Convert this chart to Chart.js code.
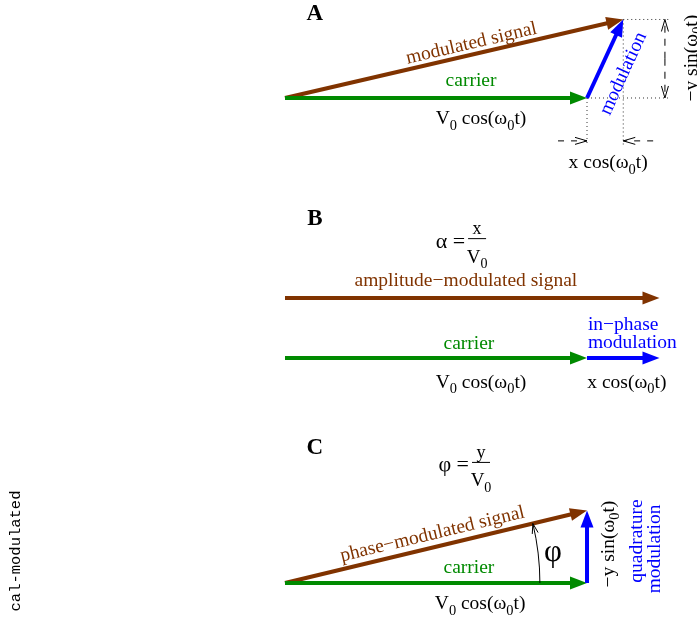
<!DOCTYPE html>
<html>
<head>
<meta charset="utf-8">
<script src="https://cdn.jsdelivr.net/npm/chart.js@4/dist/chart.umd.min.js"></script>
<style>
  html, body { margin: 0; padding: 0; background: #fff; }
  canvas { display: block; }
</style>
</head>
<body>
<canvas id="fasores" width="697" height="621"></canvas>
<script>
// amplitudes in units of the carrier V0
const carrierLen = 1.0;
const modA = [0.12, 0.26];     // x cos(w0t), -y sin(w0t) in panel A
const inPhaseB = 0.24;         // x in panel B
const quadC = 0.24;            // y in panel C
const baseY = [1.606, 0.745, 0]; // carrier height of panels A, B, C
const amGap = 0.199;           // AM arrow sits above the carrier in B

const brown = "#803300";
const green = "#008a00";
const blue = "#0000ff";

const bA = baseY[0], bB = baseY[1], bC = baseY[2];
const tipA = [carrierLen + modA[0], bA + modA[1]];

function seg(pts, color, width, extra) {
  return Object.assign({
    data: pts.map((p) => ({ x: p[0], y: p[1] })),
    borderColor: color,
    borderWidth: width,
    showLine: true,
    pointRadius: 0,
    borderCapStyle: "butt",
    clip: false,
  }, extra || {});
}

const dot = { borderDash: [1, 3], order: 5 };

const datasets = [
  // panel A
  seg([[carrierLen, bA], tipA], blue, 4, { arrow: "filled", order: 1 }),
  seg([[0, bA], [carrierLen, bA]], green, 4, { arrow: "filled", order: 2 }),
  seg([[0, bA], tipA], brown, 4, { arrow: "filled", order: 3 }),
  seg([tipA, [1.275, tipA[1]]], "#333", 1, dot),
  seg([[carrierLen, bA], [1.275, bA]], "#333", 1, dot),
  seg([[carrierLen, bA], [carrierLen, bA - 0.156]], "#333", 1, dot),
  seg([tipA, [tipA[0], bA - 0.156]], "#333", 1, dot),
  seg([[1.258, bA + 0.13], [1.258, tipA[1]]], "#000", 1, { borderDash: [7, 6], arrow: "open", order: 4 }),
  seg([[1.258, bA + 0.13], [1.258, bA]], "#000", 1, { borderDash: [7, 6], arrow: "open", order: 4 }),
  seg([[0.904, bA - 0.142], [carrierLen, bA - 0.142]], "#000", 1, { borderDash: [6, 7], arrow: "open", order: 4 }),
  seg([[1.219, bA - 0.142], [tipA[0], bA - 0.142]], "#000", 1, { borderDash: [6, 7], arrow: "open", order: 4 }),
  // panel B
  seg([[carrierLen, bB], [carrierLen + inPhaseB, bB]], blue, 4, { arrow: "filled", order: 1 }),
  seg([[0, bB], [carrierLen, bB]], green, 4, { arrow: "filled", order: 2 }),
  seg([[0, bB + amGap], [carrierLen + inPhaseB, bB + amGap]], brown, 4, { arrow: "filled", order: 3 }),
  // panel C
  seg([[carrierLen, bC], [carrierLen, bC + quadC]], blue, 4, { arrow: "filled", order: 1 }),
  seg([[0, bC], [carrierLen, bC]], green, 4, { arrow: "filled", order: 2 }),
  seg([[0, bC], [carrierLen, bC + quadC]], brown, 4, { arrow: "filled", order: 3 }),
];

// text labels (x, y in diagram units)
const SERIF = "'Liberation Serif', 'Times New Roman', serif";
const labels = [
  { t: "A", x: 0.099, y: 1.891, size: 23, bold: true },
  { t: "modulated signal", x: 0.616, y: 1.791, color: brown, rot: -13.1 },
  { t: "carrier", x: 0.616, y: 1.669, color: green },
  { t: "V_0 cos(ω_0t)", x: 0.649, y: 1.543 },
  { t: "modulation", x: 1.116, y: 1.689, color: blue, rot: -65.5 },
  { t: "x cos(ω_0t)", x: 1.070, y: 1.397 },
  { t: "−y sin(ω_0t)", x: 1.341, y: 1.738, rot: -90 },

  { t: "B", x: 0.099, y: 1.212, size: 23, bold: true },
  { t: "amplitude−modulated signal", x: 0.599, y: 1.007, color: brown },
  { t: "carrier", x: 0.609, y: 0.798, color: green },
  { t: "in−phase", x: 1.003, y: 0.861, color: blue, align: "left" },
  { t: "modulation", x: 1.003, y: 0.801, color: blue, align: "left" },
  { t: "V_0 cos(ω_0t)", x: 0.649, y: 0.669 },
  { t: "x cos(ω_0t)", x: 1.132, y: 0.669 },

  { t: "C", x: 0.099, y: 0.454, size: 23, bold: true },
  { t: "phase−modulated signal", x: 0.487, y: 0.166, color: brown, rot: -13.5 },
  { t: "carrier", x: 0.609, y: 0.056, color: green },
  { t: "V_0 cos(ω_0t)", x: 0.646, y: -0.063 },
  { t: "φ", x: 0.887, y: 0.109, size: 31 },
  { t: "−y sin(ω_0t)", x: 1.066, y: 0.129, rot: -90 },
  { t: "quadrature", x: 1.160, y: 0.139, color: blue, rot: -90 },
  { t: "modulation", x: 1.219, y: 0.113, color: blue, rot: -90 },

  { t: "cal-modulated", x: -0.894, y: 0.106, size: 15.5, rot: -90, family: "'Liberation Mono', 'DejaVu Sans Mono', monospace" },
];

const fractions = [
  { lhs: "α =", num: "x", den: "V_0", x: 0.636, y: 1.142 },
  { lhs: "φ =", num: "y", den: "V_0", x: 0.649, y: 0.401 },
];

function runs(s) {
  const out = [];
  let buf = "";
  for (let i = 0; i < s.length; i++) {
    if (s[i] === "_") {
      if (buf) out.push([buf, false]);
      buf = "";
      out.push([s[i + 1], true]);
      i++;
    } else buf += s[i];
  }
  if (buf) out.push([buf, false]);
  return out;
}

function drawRich(ctx, s, x, y, o) {
  const size = o.size || 19.5;
  const fam = o.family || SERIF;
  const weight = o.bold ? "bold " : "";
  const parts = runs(s);
  const fontFor = (sub) => weight + (sub ? size * 0.74 : size) + "px " + fam;
  let w = 0;
  parts.forEach((p) => { ctx.font = fontFor(p[1]); w += ctx.measureText(p[0]).width; });
  ctx.save();
  ctx.translate(x, y);
  if (o.rot) ctx.rotate(o.rot * Math.PI / 180);
  ctx.fillStyle = o.color || "#000";
  ctx.textBaseline = "alphabetic";
  ctx.textAlign = "left";
  let cx = o.align === "left" ? 0 : o.align === "right" ? -w : -w / 2;
  const base = size * 0.34;
  parts.forEach((p) => {
    ctx.font = fontFor(p[1]);
    ctx.fillText(p[0], cx, base + (p[1] ? size * 0.3 : 0));
    cx += ctx.measureText(p[0]).width;
  });
  ctx.restore();
}

function headPts(tip, from, len, half) {
  const dx = tip.x - from.x, dy = tip.y - from.y;
  const d = Math.hypot(dx, dy) || 1;
  const ux = dx / d, uy = dy / d;
  return {
    ux, uy,
    a: { x: tip.x - ux * len - uy * half, y: tip.y - uy * len + ux * half },
    b: { x: tip.x - ux * len + uy * half, y: tip.y - uy * len - ux * half },
  };
}

function drawOpen(ctx, tip, dirx, diry, len, half) {
  ctx.save();
  ctx.strokeStyle = "#000";
  ctx.lineWidth = 1;
  ctx.setLineDash([]);
  ctx.beginPath();
  ctx.moveTo(tip.x - dirx * len - diry * half, tip.y - diry * len + dirx * half);
  ctx.lineTo(tip.x, tip.y);
  ctx.lineTo(tip.x - dirx * len + diry * half, tip.y - diry * len - dirx * half);
  ctx.stroke();
  ctx.restore();
}

const arrowPlugin = {
  id: "flechas",
  beforeDatasetDraw(chart, args) {
    const ds = chart.data.datasets[args.index];
    if (ds.arrow !== "filled") return;
    const pts = args.meta.data;
    const tip = pts[pts.length - 1], from = pts[pts.length - 2];
    const h = headPts(tip, from, 7, 5);
    const ctx = chart.ctx;
    ctx.save();
    ctx.beginPath();
    ctx.rect(0, 0, chart.width, chart.height);
    ctx.moveTo(tip.x + h.ux * 2 - h.uy * 5, tip.y + h.uy * 2 + h.ux * 5);
    ctx.lineTo(h.a.x, h.a.y);
    ctx.lineTo(h.b.x, h.b.y);
    ctx.lineTo(tip.x + h.ux * 2 + h.uy * 5, tip.y + h.uy * 2 - h.ux * 5);
    ctx.closePath();
    ctx.clip("evenodd");
  },
  afterDatasetDraw(chart, args) {
    const ds = chart.data.datasets[args.index];
    const ctx = chart.ctx;
    const pts = args.meta.data;
    const tip = pts[pts.length - 1], from = pts[pts.length - 2];
    if (ds.arrow === "filled") {
      ctx.restore();
      const h = headPts(tip, from, 17, 6.5);
      ctx.save();
      ctx.fillStyle = ds.borderColor;
      ctx.beginPath();
      ctx.moveTo(tip.x, tip.y);
      ctx.lineTo(h.a.x, h.a.y);
      ctx.lineTo(h.b.x, h.b.y);
      ctx.closePath();
      ctx.fill();
      ctx.restore();
    } else if (ds.arrow === "open") {
      const h = headPts(tip, from, 1, 0);
      drawOpen(ctx, tip, h.ux, h.uy, 12, 3.5);
    }
  },
  afterDraw(chart) {
    const ctx = chart.ctx;
    const sx = chart.scales.x, sy = chart.scales.y;
    // angle arc in panel C
    const c = { x: sx.getPixelForValue(0), y: sy.getPixelForValue(bC) };
    const r = sx.getPixelForValue(0.844) - c.x;
    const th = Math.atan2(quadC, carrierLen);
    ctx.save();
    ctx.strokeStyle = "#000";
    ctx.lineWidth = 1;
    ctx.beginPath();
    ctx.arc(c.x, c.y, r, 0, -th, true);
    ctx.stroke();
    ctx.restore();
    const end = { x: c.x + r * Math.cos(th), y: c.y - r * Math.sin(th) };
    drawOpen(ctx, end, -Math.sin(th), -Math.cos(th), 10, 3);

    labels.forEach((l) => drawRich(ctx, l.t, sx.getPixelForValue(l.x), sy.getPixelForValue(l.y), l));

    fractions.forEach((f) => {
      const x = sx.getPixelForValue(f.x), y = sy.getPixelForValue(f.y);
      ctx.save();
      ctx.strokeStyle = "#000";
      ctx.lineWidth = 1;
      ctx.beginPath();
      ctx.moveTo(x - 9, y + 0.5);
      ctx.lineTo(x + 9, y + 0.5);
      ctx.stroke();
      ctx.restore();
      drawRich(ctx, f.lhs, x - 12, y + 2, { align: "right", size: 22 });
      drawRich(ctx, f.num, x, y - 10, { size: 18 });
      drawRich(ctx, f.den, x, y + 18, { size: 19 });
    });
  },
};

new Chart(document.getElementById("fasores"), {
  type: "scatter",
  data: { datasets },
  options: {
    responsive: false,
    animation: false,
    events: [],
    layout: { padding: 0 },
    scales: {
      x: { type: "linear", min: -0.9437, max: 1.3642, display: false },
      y: { type: "linear", min: -0.1258, max: 1.9305, display: false },
    },
    plugins: { legend: { display: false }, tooltip: { enabled: false } },
  },
  plugins: [arrowPlugin],
});
</script>
</body>
</html>
